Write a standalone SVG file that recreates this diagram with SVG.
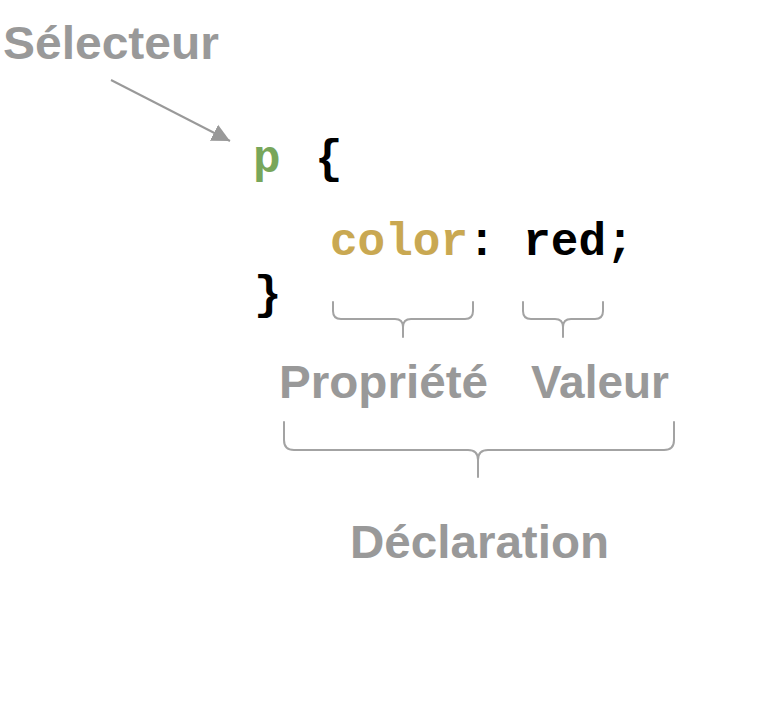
<svg xmlns="http://www.w3.org/2000/svg" width="780" height="702" viewBox="0 0 780 702">
<defs>
<style>
.lbl{font-family:"Liberation Sans",Arial,Helvetica,sans-serif;font-weight:bold;font-size:46px;fill:#999999}
.code{font-family:"Liberation Mono","Courier New",monospace;font-weight:bold;font-size:46px;fill:#000000}
.sel{fill:#78a65a}
.prop{fill:#c9a852}
.brace{fill:none;stroke:#a3a3a3;stroke-width:2;stroke-linecap:round;stroke-linejoin:round}
.conn{fill:none;stroke:#999999;stroke-width:2}
</style>
<marker id="arr" markerUnits="userSpaceOnUse" markerWidth="20" markerHeight="20" refX="18" refY="9" orient="auto" viewBox="0 0 20 18">
<path d="M0,0 L18,9 L0,18 Z" fill="#999999"/>
</marker>
</defs>
<rect width="780" height="702" fill="#ffffff"/>
<g id="selecteur"><text class="lbl" x="3" y="59" textLength="216" lengthAdjust="spacingAndGlyphs">Sélecteur</text></g>
<g id="code">
<text class="code" x="253" y="172"><tspan class="sel">p</tspan></text>
<text class="code" x="315" y="172">{</text>
<text class="code" x="330" y="255"><tspan class="prop">color</tspan>: red;</text>
<text class="code" x="254" y="308">}</text>
</g>
<g id="propriete">
<path class="brace" d="M333,302 V311 Q333,319 341,319 H395 Q403,319 403,327 Q403,319 411,319 H465 Q473,319 473,311 V302 M403,326 V337"/>
<text class="lbl" x="279" y="398" textLength="209" lengthAdjust="spacingAndGlyphs">Propriété</text>
</g>
<g id="valeur">
<path class="brace" d="M523,302 V311 Q523,319 531,319 H555 Q563,319 563,327 Q563,319 571,319 H595 Q603,319 603,311 V302 M563,326 V337"/>
<text class="lbl" x="531" y="398" textLength="138" lengthAdjust="spacingAndGlyphs">Valeur</text>
</g>
<g id="declaration">
<path class="brace" d="M284,422 V440 Q284,450 294,450 H468 Q478,450 478,460 Q478,450 488,450 H664 Q674,450 674,440 V422 M478,458 V477"/>
<text class="lbl" x="350" y="558" textLength="259" lengthAdjust="spacingAndGlyphs">Déclaration</text>
</g>
<g id="connectors">
<line class="conn" x1="111" y1="80" x2="230" y2="141" marker-end="url(#arr)"/>
</g>
</svg>
